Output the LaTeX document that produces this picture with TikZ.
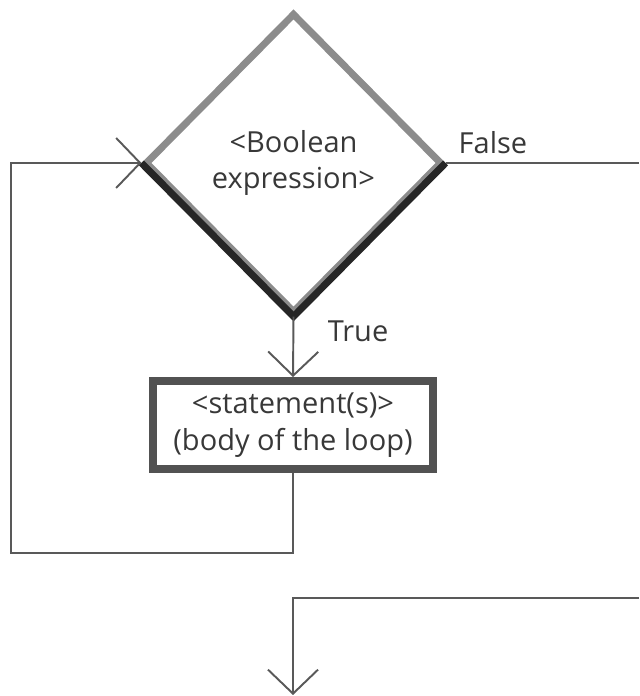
\documentclass[tikz,border=0pt]{standalone}
\usepackage{fontspec}
\setmainfont{Open Sans}
\usepackage{tikz}
\usetikzlibrary{shapes.geometric,arrows.meta}

\begin{document}
\begin{tikzpicture}[
    font=\fontsize{16.5}{21}\selectfont, text=black!78,
    flow/.style={draw=black!65, line width=1.1pt},
    tip/.style={-{Straight Barb[length=0.48cm, width=1cm]}},
    cond/.style={diamond, draw=black!45, line width=4pt, inner sep=0pt,
      minimum width=5.94cm, minimum height=6cm, align=center},
    body/.style={rectangle, draw=black!68, line width=4.5pt,
      minimum width=5.6cm, minimum height=1.76cm, align=center, inner sep=0pt}]
      \useasboundingbox (0,0) rectangle (12.78,13.92);
      \node[cond] (test) at (5.87,10.66) {<Boolean\\expression>};
      \draw[black!85, line width=4pt] (test.west) -- (test.south) -- (test.east);
      \node[body] (loop) at (5.86,5.42) {<statement(s)>\\(body of the loop)};
      \node (false) at (9.86,11.06) {False};
      \node (true) at (7.16,7.3) {True};
      \coordinate (back) at (0.22,2.86);
      \coordinate (exit) at (12.78,10.66);
      \coordinate (next) at (12.78,1.96);
      \coordinate (after) at (5.86,0.02);
      \draw[flow, tip] (test.south) -- (loop.north);
      \draw[flow, tip] (loop.south) |- (back) |- (test.west);
      \draw[flow] (test.east) -- (exit);
      \draw[flow, tip] (next) -| (after);
    \end{tikzpicture}
\end{document}
